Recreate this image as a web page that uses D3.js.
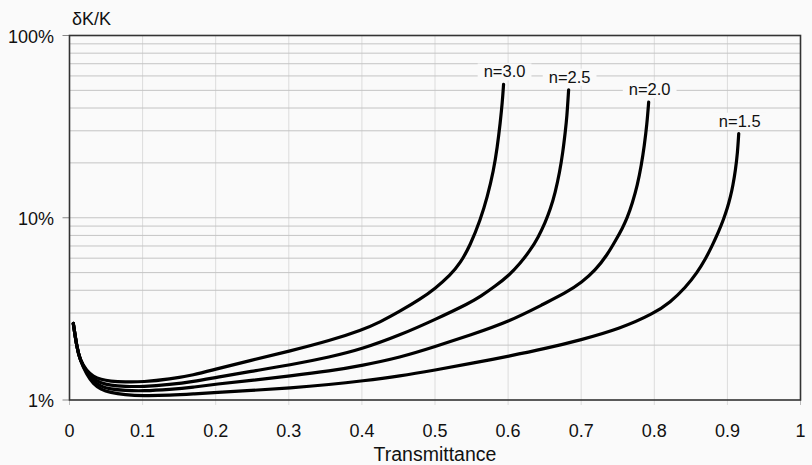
<!DOCTYPE html>
<html>
<head>
<meta charset="utf-8">
<script src="https://cdn.jsdelivr.net/npm/d3@7/dist/d3.min.js"></script>
<style>
  html, body { margin: 0; padding: 0; background: #fafafa; }
  svg { display: block; }
  text { font-family: "Liberation Sans", Arial, sans-serif; fill: #111; }
</style>
</head>
<body>
<svg id="chart" width="812" height="465"></svg>
<script>
// ---- data ----
const seriesLabels = ["n=3.0", "n=2.5", "n=2.0", "n=1.5"];

// transmittance values and δK/K in percent
const T_n30 = [0.0052, 0.0099, 0.0144, 0.0235, 0.0326, 0.0431, 0.0554, 0.0760, 0.1002, 0.1376, 0.1695, 0.2005, 0.2471, 0.3018, 0.3566, 0.4000, 0.4250, 0.4524, 0.4798, 0.5000, 0.5209, 0.5346, 0.5483, 0.5619, 0.5715, 0.5802, 0.5852, 0.5893, 0.5921, 0.5938];
const K_n30 = [2.63, 1.96, 1.656, 1.442, 1.345, 1.295, 1.268, 1.255, 1.255, 1.303, 1.371, 1.479, 1.646, 1.856, 2.118, 2.419, 2.676, 3.074, 3.576, 4.083, 4.842, 5.633, 7.069, 9.69, 12.95, 18.21, 24.34, 33.37, 42.95, 53.9];

const T_n25 = [0.0052, 0.0099, 0.0144, 0.0235, 0.0326, 0.0431, 0.0554, 0.0760, 0.1002, 0.1376, 0.1695, 0.2005, 0.2471, 0.3018, 0.3566, 0.4000, 0.4524, 0.5000, 0.5483, 0.5619, 0.5825, 0.6016, 0.6167, 0.6304, 0.6413, 0.6509, 0.6578, 0.6646, 0.6705, 0.6749, 0.6783, 0.6804, 0.6828];
const K_n25 = [2.63, 1.96, 1.656, 1.423, 1.303, 1.239, 1.204, 1.186, 1.183, 1.216, 1.263, 1.331, 1.433, 1.555, 1.721, 1.903, 2.271, 2.761, 3.422, 3.691, 4.214, 4.842, 5.633, 6.636, 7.82, 9.45, 11.13, 13.80, 17.76, 22.86, 29.79, 35.54, 50.4];

const T_n20 = [0.0052, 0.0099, 0.0144, 0.0235, 0.0326, 0.0431, 0.0554, 0.0760, 0.1002, 0.1376, 0.1695, 0.2005, 0.2471, 0.3018, 0.3566, 0.4000, 0.4524, 0.5000, 0.5483, 0.6016, 0.6509, 0.6783, 0.7012, 0.7194, 0.7354, 0.7481, 0.7563, 0.7628, 0.7700, 0.7769, 0.7823, 0.7864, 0.7899, 0.7923];
const K_n20 = [2.63, 1.96, 1.656, 1.406, 1.263, 1.186, 1.149, 1.127, 1.120, 1.142, 1.174, 1.224, 1.279, 1.354, 1.442, 1.545, 1.710, 1.960, 2.271, 2.693, 3.401, 3.858, 4.432, 5.157, 6.232, 7.626, 8.759, 9.94, 12.01, 15.07, 19.40, 24.96, 32.53, 43.1];

const T_n15 = [0.0052, 0.0099, 0.0144, 0.0235, 0.0326, 0.0431, 0.0554, 0.0760, 0.1002, 0.1376, 0.1695, 0.2005, 0.2471, 0.3018, 0.3566, 0.4000, 0.4524, 0.5000, 0.5483, 0.6016, 0.6509, 0.6988, 0.7536, 0.7992, 0.8220, 0.8426, 0.8590, 0.8699, 0.8795, 0.8877, 0.8950, 0.9001, 0.9042, 0.9076, 0.9110, 0.9138, 0.9155];
const K_n15 = [2.63, 1.96, 1.656, 1.380, 1.224, 1.142, 1.099, 1.068, 1.054, 1.061, 1.079, 1.099, 1.127, 1.163, 1.216, 1.271, 1.354, 1.460, 1.583, 1.742, 1.915, 2.132, 2.465, 2.979, 3.443, 4.134, 5.028, 5.925, 7.069, 8.327, 9.87, 11.34, 13.03, 15.07, 18.21, 22.56, 28.93];

const xTicks = [0, 0.1, 0.2, 0.3, 0.4, 0.5, 0.6, 0.7, 0.8, 0.9, 1];
const xTickLabels = ["0", "0.1", "0.2", "0.3", "0.4", "0.5", "0.6", "0.7", "0.8", "0.9", "1"];
const yTicks = [1, 10, 100];
const yTickLabels = ["1%", "10%", "100%"];
const yGrid = [2, 3, 4, 5, 6, 7, 8, 9, 10, 20, 30, 40, 50, 60, 70, 80, 90];
const yTitle = "δK/K";
const xTitle = "Transmittance";

// ---- build ----
const series = [
  {label: seriesLabels[0], T: T_n30, K: K_n30},
  {label: seriesLabels[1], T: T_n25, K: K_n25},
  {label: seriesLabels[2], T: T_n20, K: K_n20},
  {label: seriesLabels[3], T: T_n15, K: K_n15}
].map(s => ({label: s.label, pts: s.T.map((t, i) => [t, s.K[i]])}));

const svg = d3.select("#chart");
const L = 69.5, R = 800.5, Tp = 35.5, B = 400;
const x = d3.scaleLinear().domain([0, 1]).range([L, R]);
const y = d3.scaleLog().domain([1, 100]).range([B, Tp]);

// vertical grid (with small ticks below axis)
svg.append("g").selectAll("line").data(xTicks.slice(1, -1)).join("line")
  .attr("x1", d => x(d)).attr("x2", d => x(d))
  .attr("y1", Tp).attr("y2", B + 5)
  .attr("stroke", "#dcdcdc").attr("stroke-width", 1);
svg.append("g").selectAll("line").data([0, 1]).join("line")
  .attr("x1", d => x(d)).attr("x2", d => x(d))
  .attr("y1", B).attr("y2", B + 5)
  .attr("stroke", "#bbb").attr("stroke-width", 1);

// horizontal grid
svg.append("g").selectAll("line").data(yGrid).join("line")
  .attr("x1", L).attr("x2", R)
  .attr("y1", d => y(d)).attr("y2", d => y(d))
  .attr("stroke", "#c4c4c4").attr("stroke-width", 1);

// y ticks extending left
svg.append("g").selectAll("line").data(yTicks).join("line")
  .attr("x1", L - 7).attr("x2", L)
  .attr("y1", d => y(d)).attr("y2", d => y(d))
  .attr("stroke", "#888").attr("stroke-width", 1);

// curves
const line = d3.line().x(d => x(d[0])).y(d => y(d[1])).curve(d3.curveBasis);
svg.append("g").selectAll("path").data(series).join("path")
  .attr("d", d => line(d.pts))
  .attr("fill", "none").attr("stroke", "#000").attr("stroke-width", 3.2)
  .attr("stroke-linecap", "round").attr("stroke-linejoin", "round");

// border
svg.append("rect").attr("x", L).attr("y", Tp).attr("width", R - L).attr("height", B - Tp)
  .attr("fill", "none").attr("stroke", "#333").attr("stroke-width", 1.6);

// curve labels with background boxes
const lg = svg.append("g");
series.forEach(s => {
  const last = s.pts[s.pts.length - 1];
  const cx = x(last[0]) + 1, by = y(last[1]) - 7;
  const t = lg.append("text").attr("x", cx).attr("y", by)
    .attr("text-anchor", "middle").attr("font-size", 16.5).text(s.label);
  const bb = t.node().getBBox();
  lg.insert("rect", "text").attr("x", bb.x - 6).attr("y", bb.y + 1)
    .attr("width", bb.width + 12).attr("height", bb.height - 1).attr("fill", "#fafafa");
});

// tick labels
svg.append("g").selectAll("text").data(xTicks).join("text")
  .attr("x", d => x(d)).attr("y", 437)
  .attr("text-anchor", "middle").attr("font-size", 18)
  .text((d, i) => xTickLabels[i]);
svg.append("g").selectAll("text").data(yTicks).join("text")
  .attr("x", 54).attr("y", d => y(d) + 7)
  .attr("text-anchor", "end").attr("font-size", 18)
  .text((d, i) => yTickLabels[i]);

// titles
svg.append("text").attr("x", 72).attr("y", 25).attr("font-size", 18).text(yTitle);
svg.append("text").attr("x", x(0.5)).attr("y", 461).attr("text-anchor", "middle").attr("font-size", 19.5).text(xTitle);
</script>
</body>
</html>
